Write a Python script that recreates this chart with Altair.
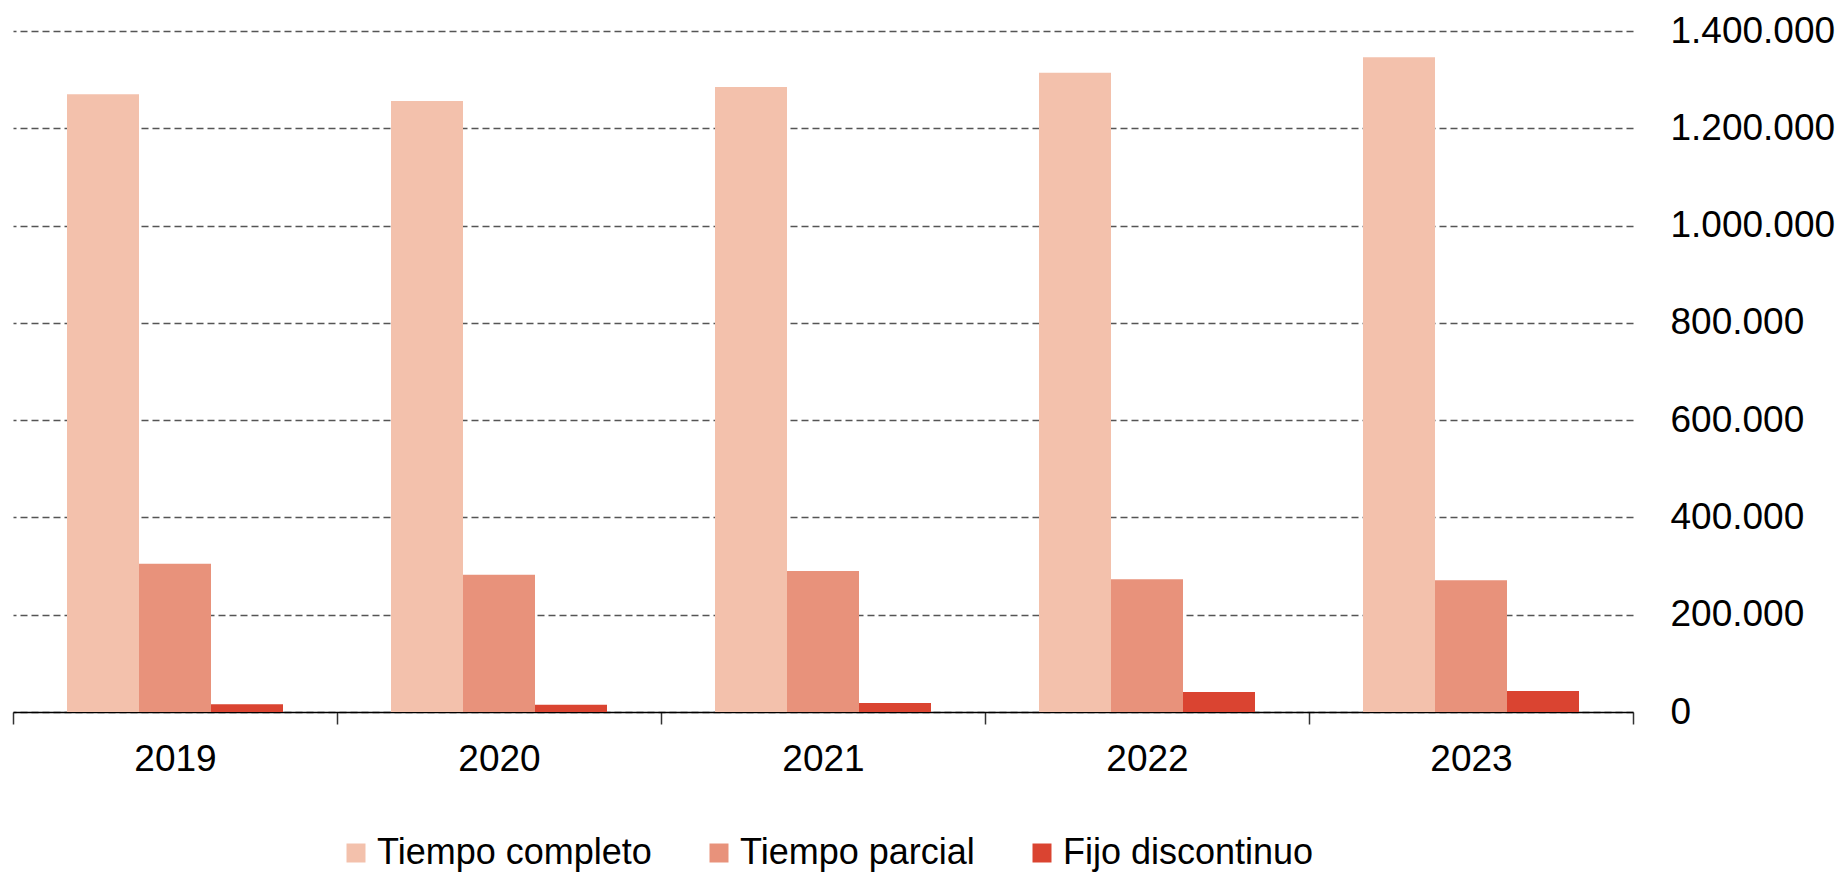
import altair as alt
import pandas as pd

years = ["2019", "2020", "2021", "2022", "2023"]
series = ["Tiempo completo", "Tiempo parcial", "Fijo discontinuo"]
completo = [1270000, 1256000, 1285000, 1314000, 1346000]
parcial = [305000, 282000, 290000, 273000, 271000]
fijo = [16000, 15000, 18500, 41000, 43000]
colors = ["#F3C1AC", "#E8927B", "#DA4431"]
y_ticks = [0, 200000, 400000, 600000, 800000, 1000000, 1200000, 1400000]

rows = []
for i, y in enumerate(years):
    for s, vals in zip(series, [completo, parcial, fijo]):
        rows.append({"year": y, "serie": s, "valor": vals[i]})
df = pd.DataFrame(rows)

FONT = "Liberation Sans"

chart = alt.Chart(df).mark_bar().encode(
    x=alt.X(
        "year:N",
        sort=years,
        scale=alt.Scale(paddingInner=0, paddingOuter=0),
        axis=alt.Axis(
            title=None,
            labelAngle=0,
            labelFontSize=37,
            labelFont=FONT,
            labelColor="#000000",
            labelPadding=17,
            tickBand="extent",
            tickSize=12,
            tickColor="#333333",
            tickWidth=1.5,
            domainColor="#000000",
            domainWidth=1.5,
            grid=False,
        ),
    ),
    xOffset=alt.XOffset(
        "serie:N",
        sort=series,
        scale=alt.Scale(domain=series, paddingInner=0, paddingOuter=0.75),
    ),
    y=alt.Y(
        "valor:Q",
        scale=alt.Scale(domain=[0, 1400000], nice=False),
        axis=alt.Axis(
            title=None,
            orient="right",
            values=y_ticks,
            labelExpr="replace(replace(format(datum.value, ',d'), ',', '.'), ',', '.')",
            labelFontSize=37,
            labelFont=FONT,
            labelColor="#000000",
            labelPadding=37,
            ticks=False,
            domain=False,
            grid=True,
            gridColor="#555555",
            gridDash=[7, 4],
            gridWidth=1.5,
        ),
    ),
    color=alt.Color(
        "serie:N",
        sort=series,
        scale=alt.Scale(domain=series, range=colors),
        legend=alt.Legend(
            title=None,
            orient="none",
            legendX=325,
            legendY=804,
            direction="horizontal",
            symbolType="square",
            symbolSize=361,
            symbolStrokeWidth=0,
            labelFontSize=36,
            labelFont=FONT,
            labelColor="#000000",
            labelOffset=3,
            columnPadding=49,
            labelLimit=500,
        ),
    ),
).properties(
    width=1620,
    height=681,
    autosize=alt.AutoSizeParams(type="none"),
    padding={"left": 5, "top": 23, "right": 204, "bottom": 163},
).configure_view(stroke=None)

chart.save("out.html", embed_options={"renderer": "svg", "actions": False})
